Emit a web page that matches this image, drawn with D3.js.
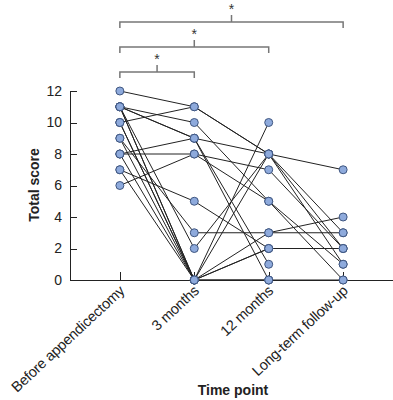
<!DOCTYPE html>
<html lang="en">

<head>
    <meta charset="UTF-8">
    <title>Total score by time point</title>
    <style>
        body,
        html {
            margin: 0;
            padding: 0;
            background: #fff;
        }

        svg {
            display: block;
            font-family: "Liberation Sans", Arial, sans-serif;
        }

        .axis path,
        .axis line {
            stroke: #222;
            fill: none;
            shape-rendering: crispEdges;
        }

        .axis text {
            font-size: 14px;
            fill: #222;
        }

        .bracket {
            stroke: #777;
            stroke-width: 1.5;
            fill: none;
        }
    </style>
</head>

<body>
    <svg width="393" height="400"></svg>

    <script src="https://d3js.org/d3.v7.min.js"></script>
    <script>
        const timePoints = ["Before appendicectomy", "3 months", "12 months", "Long-term follow-up"];
        const yTicks = [0, 2, 4, 6, 8, 10, 12];

        // one row per patient: score at each time point (null = not available)
        const before = [12, 10, 11, 11, 11, 8, 8, 6, 7, 9, 11, 11, 10, 9, 8, 11, 7, 10];
        const month3 = [11, 11, 10, 9, 9, 9, 8, 8, 5, 3, 2, 0, 0, 0, 0, 0, 0, 0];
        const month12 = [8, 8, 5, 1, 0, 8, 7, 5, 2, 3, 8, 10, 8, 3, 2, 0, 2, 0];
        const longTerm = [7, 3, 1, null, null, 2, 2, 0, 2, 3, 1, null, null, 4, null, 0, null, null];

        // significance brackets: [from index, to index]
        const comparisons = [[0, 1], [0, 2], [0, 3]];

        const svg = d3.select("svg");

        const x = d3.scalePoint()
            .domain(timePoints)
            .range([70, 393])
            .padding(0.67);

        const y = d3.scaleLinear()
            .domain([0, 12])
            .range([280, 91]);

        const patients = before.map((b, i) => [b, month3[i], month12[i], longTerm[i]]);

        // y axis, ticks pointing inwards
        svg.append("g")
            .attr("class", "axis")
            .attr("transform", "translate(70,0)")
            .call(d3.axisLeft(y).tickValues(yTicks).tickSize(-7).tickSizeOuter(0).tickPadding(8));

        // x axis
        const gX = svg.append("g")
            .attr("class", "axis")
            .attr("transform", "translate(0,280)")
            .call(d3.axisBottom(x).tickSize(-8).tickSizeOuter(0));

        gX.selectAll("text")
            .attr("text-anchor", "end")
            .attr("dy", null)
            .attr("y", 0)
            .attr("transform", "translate(5,12) rotate(-43)")
            .style("font-size", "14.5px")
            .style("letter-spacing", "-0.2px");

        // patient lines
        const line = d3.line()
            .defined(d => d[1] != null)
            .x(d => x(timePoints[d[0]]))
            .y(d => y(d[1]));

        svg.append("g")
            .selectAll("path")
            .data(patients)
            .enter().append("path")
            .attr("d", p => line(p.map((v, i) => [i, v])))
            .attr("fill", "none")
            .attr("stroke", "#222")
            .attr("stroke-width", 1);

        // points
        const pts = [];
        patients.forEach(p => p.forEach((v, i) => { if (v != null) pts.push([i, v]); }));

        svg.append("g")
            .selectAll("circle")
            .data(pts)
            .enter().append("circle")
            .attr("cx", d => x(timePoints[d[0]]))
            .attr("cy", d => y(d[1]))
            .attr("r", 4)
            .attr("fill", "#8eaadc")
            .attr("stroke", "#3f5680")
            .attr("stroke-width", 1);

        // brackets with asterisks
        const bracketY = [72, 47, 22];
        comparisons.forEach((c, i) => {
            const x0 = x(timePoints[c[0]]), x1 = x(timePoints[c[1]]), by = bracketY[i];
            const mid = (x0 + x1) / 2;
            svg.append("path")
                .attr("class", "bracket")
                .attr("d", `M${x0},${by + 6}V${by}H${x1}V${by + 6}M${mid},${by}V${by - 7}`);
            svg.append("text")
                .attr("x", mid)
                .attr("y", by - 8)
                .attr("text-anchor", "middle")
                .style("font-size", "14px")
                .attr("fill", "#333")
                .text("*");
        });

        // axis titles
        svg.append("text")
            .attr("transform", "translate(39,185) rotate(-90)")
            .attr("text-anchor", "middle")
            .style("font-size", "14px")
            .style("font-weight", "bold")
            .attr("fill", "#222")
            .text("Total score");

        svg.append("text")
            .attr("x", 233)
            .attr("y", 395)
            .attr("text-anchor", "middle")
            .style("font-size", "14px")
            .style("font-weight", "bold")
            .attr("fill", "#222")
            .text("Time point");
    </script>
</body>

</html>
